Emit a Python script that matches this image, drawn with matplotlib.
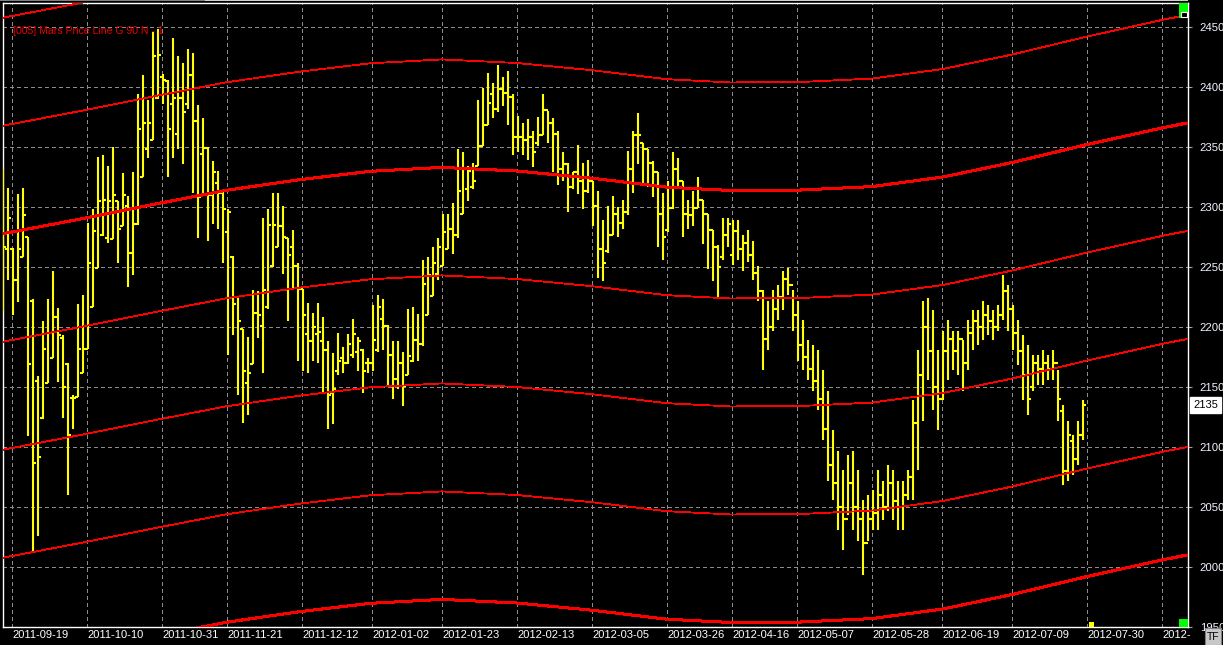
import matplotlib
matplotlib.use('Agg')
import matplotlib.pyplot as plt
from matplotlib.collections import LineCollection
from matplotlib.patches import Rectangle
import matplotlib.transforms as mtransforms
import numpy as np

# ---------------- data ----------------
bar_high = [2332, 2316, 2266, 2311, 2316, 2275, 2223, 2159, 2205, 2223,
            2247, 2216, 2193, 2170, 2143, 2219, 2227, 2287, 2298, 2342,
            2343, 2334, 2350, 2305, 2328, 2309, 2329, 2394, 2410, 2389,
            2446, 2448, 2411, 2406, 2441, 2426, 2420, 2432, 2428, 2385,
            2374, 2350, 2338, 2330, 2315, 2298, 2259, 2225, 2198, 2192,
            2231, 2230, 2291, 2298, 2312, 2312, 2301, 2274, 2281, 2253,
            2232, 2220, 2212, 2220, 2208, 2188, 2178, 2195, 2183, 2194,
            2207, 2192, 2182, 2174, 2218, 2227, 2223, 2202, 2188, 2188,
            2179, 2215, 2217, 2211, 2256, 2258, 2267, 2274, 2294, 2294,
            2303, 2348, 2346, 2334, 2337, 2389, 2399, 2412, 2403, 2418,
            2408, 2413, 2394, 2376, 2370, 2373, 2363, 2375, 2394, 2380,
            2374, 2363, 2346, 2337, 2329, 2352, 2337, 2339, 2322, 2313,
            2289, 2301, 2309, 2300, 2306, 2347, 2363, 2378, 2353, 2348,
            2338, 2329, 2312, 2322, 2346, 2341, 2322, 2306, 2313, 2325,
            2306, 2294, 2281, 2268, 2291, 2291, 2289, 2289, 2277, 2281,
            2272, 2251, 2231, 2222, 2231, 2235, 2247, 2249, 2231, 2222,
            2206, 2189, 2185, 2181, 2164, 2147, 2114, 2097, 2081, 2093,
            2097, 2081, 2056, 2060, 2064, 2081, 2072, 2085, 2081, 2072,
            2072, 2081, 2139, 2181, 2222, 2224, 2214, 2181, 2197, 2206,
            2197, 2197, 2189, 2206, 2214, 2214, 2222, 2218, 2214, 2218,
            2243, 2235, 2218, 2206, 2193, 2185, 2177, 2177, 2181, 2177,
            2181, 2164, 2135, 2122, 2110, 2122, 2139]
bar_low = [2213, 2239, 2210, 2221, 2258, 2109, 2013, 2026, 2123, 2153,
           2174, 2154, 2124, 2060, 2115, 2142, 2162, 2182, 2217, 2249,
           2276, 2270, 2273, 2253, 2284, 2233, 2243, 2285, 2325, 2341,
           2356, 2390, 2386, 2325, 2341, 2348, 2336, 2382, 2312, 2274,
           2312, 2272, 2286, 2282, 2253, 2177, 2193, 2143, 2120, 2127,
           2169, 2191, 2162, 2215, 2250, 2267, 2244, 2205, 2232, 2172,
           2163, 2162, 2172, 2170, 2146, 2115, 2119, 2160, 2162, 2169,
           2174, 2163, 2145, 2162, 2163, 2179, 2181, 2150, 2140, 2148,
           2134, 2160, 2171, 2172, 2184, 2210, 2226, 2239, 2251, 2265,
           2261, 2274, 2294, 2305, 2315, 2334, 2351, 2368, 2374, 2379,
           2384, 2368, 2343, 2346, 2343, 2339, 2333, 2351, 2360, 2353,
           2329, 2318, 2322, 2296, 2315, 2311, 2298, 2312, 2284, 2241,
           2238, 2262, 2277, 2275, 2282, 2293, 2312, 2336, 2320, 2317,
           2308, 2267, 2256, 2279, 2298, 2317, 2275, 2282, 2284, 2299,
           2269, 2248, 2238, 2224, 2256, 2267, 2252, 2256, 2247, 2254,
           2239, 2222, 2164, 2181, 2197, 2206, 2214, 2227, 2197, 2172,
           2164, 2156, 2147, 2131, 2106, 2072, 2056, 2031, 2014, 2043,
           2031, 2022, 1993, 2022, 2031, 2031, 2039, 2047, 2039, 2031,
           2031, 2056, 2056, 2081, 2122, 2156, 2131, 2114, 2139, 2156,
           2164, 2160, 2147, 2164, 2181, 2185, 2189, 2193, 2189, 2197,
           2206, 2197, 2181, 2168, 2139, 2127, 2147, 2152, 2152, 2156,
           2156, 2122, 2068, 2072, 2077, 2085, 2106]
bar_open = [2239, 2265, 2265, 2239, 2258, 2275, 2222, 2155, 2124, 2153,
            2174, 2208, 2191, 2169, 2141, 2142, 2162, 2182, 2217, 2249,
            2277, 2274, 2273, 2305, 2284, 2301, 2262, 2286, 2325, 2348,
            2356, 2391, 2408, 2405, 2386, 2361, 2391, 2386, 2410, 2372,
            2344, 2349, 2310, 2320, 2312, 2279, 2258, 2225, 2198, 2153,
            2169, 2212, 2201, 2217, 2251, 2267, 2284, 2274, 2267, 2251,
            2232, 2194, 2188, 2194, 2188, 2181, 2145, 2163, 2174, 2170,
            2177, 2179, 2181, 2170, 2170, 2181, 2207, 2201, 2177, 2157,
            2170, 2160, 2172, 2189, 2186, 2210, 2226, 2244, 2251, 2265,
            2282, 2277, 2294, 2315, 2317, 2334, 2351, 2368, 2394, 2382,
            2398, 2395, 2392, 2358, 2358, 2356, 2358, 2353, 2360, 2381,
            2370, 2361, 2332, 2336, 2317, 2329, 2322, 2313, 2322, 2301,
            2265, 2263, 2277, 2294, 2287, 2296, 2332, 2360, 2353, 2348,
            2337, 2329, 2294, 2281, 2299, 2332, 2322, 2294, 2293, 2299,
            2306, 2294, 2281, 2267, 2258, 2277, 2260, 2280, 2265, 2270,
            2260, 2245, 2230, 2190, 2200, 2215, 2225, 2240, 2235, 2210,
            2185, 2175, 2165, 2155, 2140, 2115, 2085, 2070, 2050, 2040,
            2070, 2050, 2040, 2020, 2040, 2045, 2060, 2050, 2070, 2055,
            2050, 2060, 2075, 2120, 2160, 2200, 2180, 2150, 2140, 2180,
            2190, 2180, 2190, 2170, 2195, 2205, 2200, 2210, 2205, 2200,
            2210, 2230, 2215, 2195, 2180, 2160, 2150, 2170, 2165, 2170,
            2165, 2170, 2130, 2080, 2105, 2090, 2110]
bar_close = [2267, 2291, 2239, 2265, 2293, 2169, 2087, 2092, 2182, 2195,
             2208, 2193, 2150, 2110, 2141, 2182, 2182, 2253, 2280, 2305,
             2306, 2305, 2310, 2282, 2310, 2262, 2286, 2365, 2370, 2370,
             2426, 2427, 2406, 2365, 2391, 2391, 2379, 2410, 2372, 2308,
             2349, 2310, 2329, 2312, 2298, 2296, 2219, 2205, 2163, 2162,
             2212, 2210, 2231, 2285, 2285, 2284, 2275, 2260, 2251, 2232,
             2210, 2188, 2200, 2196, 2181, 2143, 2148, 2172, 2170, 2186,
             2194, 2188, 2163, 2170, 2189, 2217, 2201, 2177, 2157, 2170,
             2151, 2176, 2189, 2186, 2236, 2243, 2253, 2267, 2279, 2282,
             2277, 2313, 2332, 2330, 2322, 2351, 2368, 2387, 2382, 2398,
             2395, 2392, 2358, 2358, 2356, 2358, 2346, 2360, 2381, 2370,
             2361, 2332, 2336, 2317, 2329, 2322, 2313, 2322, 2301, 2265,
             2253, 2277, 2294, 2287, 2296, 2332, 2360, 2360, 2348, 2337,
             2329, 2294, 2275, 2299, 2332, 2322, 2294, 2293, 2299, 2306,
             2294, 2281, 2267, 2250, 2277, 2286, 2280, 2265, 2270, 2260,
             2245, 2230, 2190, 2200, 2215, 2225, 2240, 2235, 2210, 2185,
             2175, 2165, 2155, 2140, 2115, 2085, 2070, 2050, 2040, 2070,
             2050, 2040, 2020, 2040, 2045, 2060, 2050, 2070, 2055, 2050,
             2060, 2075, 2120, 2160, 2200, 2180, 2150, 2140, 2180, 2190,
             2180, 2190, 2170, 2195, 2205, 2200, 2210, 2205, 2200, 2210,
             2230, 2215, 2195, 2180, 2160, 2140, 2170, 2165, 2170, 2165,
             2170, 2140, 2080, 2110, 2090, 2110, 2135]

date_labels = ['2011-09-19', '2011-10-10', '2011-10-31', '2011-11-21',
               '2011-12-12', '2012-01-02', '2012-01-23', '2012-02-13',
               '2012-03-05', '2012-03-26', '2012-04-16', '2012-05-07',
               '2012-05-28', '2012-06-19', '2012-07-09', '2012-07-30',
               '2012-']
date_bar_index = [2, 17, 32, 45, 60, 74, 88, 103, 118, 133, 146, 159,
                  174, 188, 202, 217, 232]

# Mars price line (base level)
mars_idx = [-1, 16.7, 31.7, 44.7, 59.7, 73.3, 87.7, 102.7, 117.7, 132.7,
            145.3, 158.7, 173.7, 187.9, 201.7, 216.7, 231.9, 238]
mars_base = [2277, 2291, 2303.5, 2314, 2323, 2329.7, 2333, 2330, 2324,
             2316.5, 2313.8, 2314, 2317, 2325, 2337, 2352, 2366, 2371]
mars_offsets = [-360, -270, -180, -90, 0, 90, 180]
mars_thick = [-360, 0, 360]

price_ticks = [1950, 2000, 2050, 2100, 2150, 2200, 2250, 2300, 2350, 2400, 2450]
last_price = 2135
title = '[005] Mars Price Line G 90 N - 1'

# ---------------- figure ----------------
plt.rcParams['font.family'] = ['Liberation Sans', 'DejaVu Sans']
plt.rcParams['lines.scale_dashes'] = False

W, H, DPI = 1223, 645, 100
fig = plt.figure(figsize=(W / DPI, H / DPI), dpi=DPI, facecolor='black')

PL, PR, PT, PB = 3, 1188, 3, 627
ax = fig.add_axes([PL / W, 1 - PB / H, (PR - PL) / W, (PB - PT) / H])
ax.set_facecolor('black')
X0, PXB = 3.3, 5.0
ax.set_xlim((PL - X0) / PXB, (PR - X0) / PXB)
ax.set_ylim(1950, 2470)

for s in ax.spines.values():
    s.set_color('white')
    s.set_linewidth(1.0)

grid_col = '#8c8c8c'
dash = (0, (2.2, 2.2))
for p in price_ticks:
    ax.axhline(p, color=grid_col, lw=0.72, ls=dash, zorder=1, antialiased=False)
for i in date_bar_index:
    ax.axvline(i - 0.32, color=grid_col, lw=0.72, ls=dash, zorder=1,
               antialiased=False)

# yellow OHLC bars
segs = []
for k, (o, h, l, c) in enumerate(zip(bar_open, bar_high, bar_low, bar_close)):
    segs.append([(k, l), (k, h)])
    segs.append([(k - 0.6, o), (k, o)])
    segs.append([(k, c), (k + 0.6, c)])
bars = LineCollection(segs, colors='#FFFF00', linewidths=1.5,
                      capstyle='butt', antialiaseds=True, zorder=3)
bars.set_snap(True)
ax.add_collection(bars)

# red Mars price lines
mb = np.array(mars_base)
for off in mars_offsets:
    lw = 1.45 if off in mars_thick else 0.6
    ax.plot(mars_idx, mb + off, color='#FF0000', lw=lw, zorder=4,
            antialiased=False)

# axes ticks
ax.set_xticks([])
ax.yaxis.tick_right()
ax.set_yticks(price_ticks)
ax.set_yticklabels([str(p) for p in price_ticks])
ax.tick_params(axis='y', direction='out', length=3.0, width=0.8,
               color='#a0a0a0', labelcolor='#F0F4FF', labelsize=8.2, pad=5.5)

# date labels
tr_xb = mtransforms.blended_transform_factory(ax.transData, fig.transFigure)
for lab, i in zip(date_labels, date_bar_index):
    ax.text(i - 0.32 + 0.2, 1 - 635.5 / H, lab, transform=tr_xb, color='white',
            fontsize=8, ha='left', va='center', clip_on=False)

# title
fig.text(13 / W, 1 - 30.5 / H, title, color='#E60000', fontsize=7.6,
         ha='left', va='center', zorder=2)

# last price box
tr_fy = mtransforms.blended_transform_factory(fig.transFigure, ax.transData)
ax.text(1205.5 / W, last_price, str(last_price), transform=tr_fy, color='black',
        fontsize=8, ha='center', va='center', clip_on=False, zorder=10,
        bbox=dict(boxstyle='square,pad=0.25', fc='white', ec='white'))

# decorations (green markers, TF button, top strip)
def add_px_rect(x0, y0, x1, y1, fc, ec=None, lw=0.0, z=10):
    r = Rectangle((x0 / W, 1 - y1 / H), (x1 - x0) / W, (y1 - y0) / H,
                  transform=fig.transFigure, facecolor=fc,
                  edgecolor=ec if ec else fc, linewidth=lw, zorder=z)
    fig.patches.append(r)

add_px_rect(1179, 3, 1188, 18, '#00FF00')
add_px_rect(1180.5, 12, 1186.5, 17, 'black', 'white', 0.8, z=11)
add_px_rect(1179, 619, 1188, 627, '#00FF00')
add_px_rect(1089, 622, 1094, 627, '#FFFF00')
add_px_rect(1205, 628, 1221, 645, '#C8C8C8', '#808080', 0.8)
fig.text(1213 / W, 1 - 636.5 / H, 'TF', color='black', fontsize=7.5,
         ha='center', va='center', zorder=12)
add_px_rect(0, 0, 205, 1.2, '#808080')
add_px_rect(205, 0, 1188, 1.2, '#D0D0D0')

fig.savefig('out.png', dpi=DPI, facecolor='black')
